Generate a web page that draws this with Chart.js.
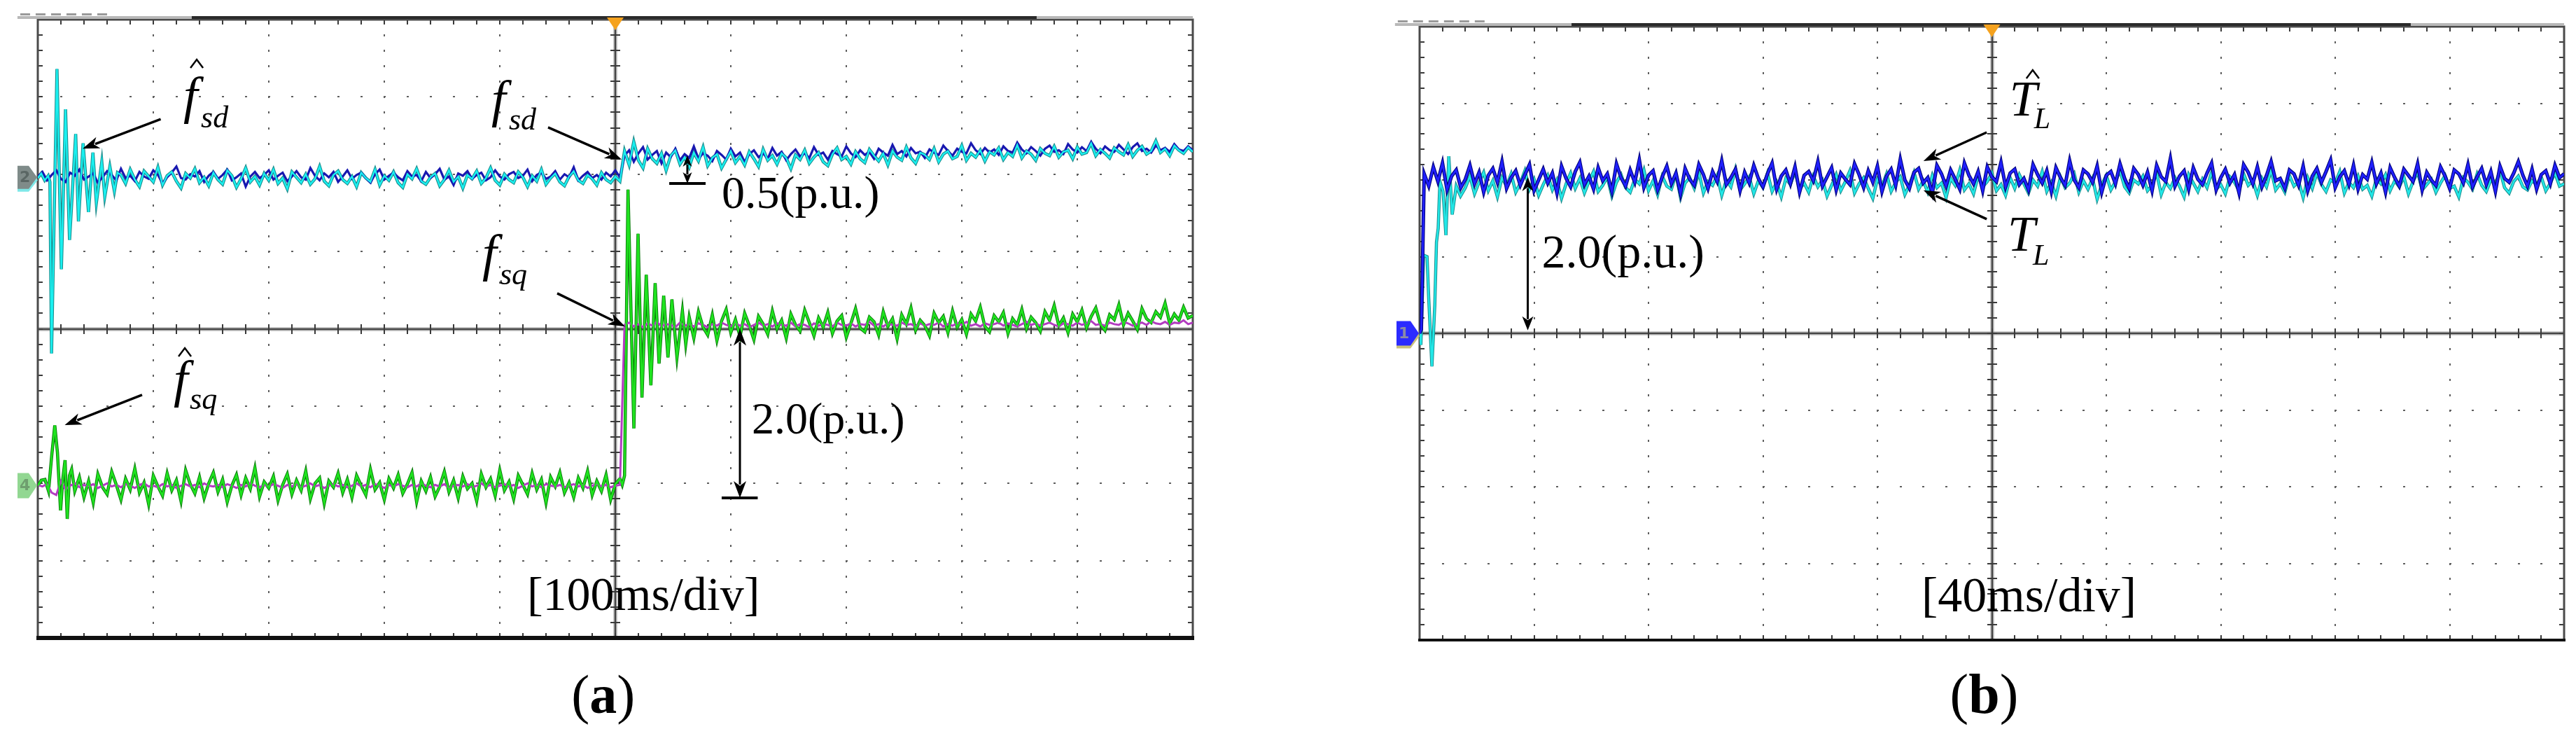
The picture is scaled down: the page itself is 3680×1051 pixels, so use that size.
<!DOCTYPE html>
<html><head><meta charset="utf-8">
<script src="https://cdn.jsdelivr.net/npm/chart.js@4.4.1/dist/chart.umd.min.js"></script>
<style>
html,body{margin:0;padding:0;background:#fff;width:3680px;height:1051px;overflow:hidden;}
canvas{position:absolute;top:0;}
#ca{left:0;} #cb{left:1840px;}
</style></head><body>
<canvas id="ca" width="1840" height="1051"></canvas>
<canvas id="cb" width="1840" height="1051"></canvas>
<script>
// ===== Panel (a): 100 ms/div, y in divisions =====
const xRangeA = [0, 1000];
const yRange = [-4, 4];
const stepA = 4; // ms sampling of steady parts

// f_sd (measured, navy)
const fsdBefore = [1.97,2.03,1.92,1.99,2.05,1.94,1.90,2.02,1.98,2.06,1.93,1.97,2.01,1.89,1.96,2.04,1.99,1.92,2.07,1.95,
1.98,1.91,2.03,1.97,1.94,2.05,1.99,1.88,1.96,2.02,2.10,1.95,1.93,2.00,1.97,2.04,1.90,1.98,2.03,1.94,
1.99,2.06,1.92,1.96,2.01,1.84,1.97,2.03,1.95,1.99,2.05,1.93,1.98,2.02,1.91,1.97,2.04,1.96,1.93,2.08,
1.98,1.92,2.01,1.96,2.03,1.90,1.97,2.05,1.94,1.99,2.02,1.95,1.89,2.00,2.06,1.93,1.98,2.02,1.96,1.92,
2.04,1.97,1.99,1.91,2.03,1.95,2.00,2.07,1.93,1.97,1.86,2.01,1.98,2.04,1.94,1.99,2.02,1.92,1.96,2.05,
1.97,1.93,2.00,2.03,1.95,1.98,2.06,1.91,1.99,2.02,1.94,1.97,2.04,1.93,2.00,1.96,2.09,1.92,1.98,2.03,
1.95,1.99,1.93,2.02,1.97,2.05,1.96];
const fsdAfter = [2.24,2.31,2.16,2.27,2.35,2.19,2.25,2.30,2.14,2.28,2.22,2.33,2.18,2.26,2.21,2.36,2.20,2.27,2.24,2.17,
2.30,2.25,2.19,2.33,2.23,2.28,2.16,2.26,2.31,2.22,2.27,2.20,2.34,2.24,2.29,2.18,2.26,2.32,2.23,2.27,
2.21,2.35,2.25,2.28,2.19,2.30,2.26,2.23,2.36,2.27,2.22,2.31,2.25,2.29,2.20,2.33,2.28,2.24,2.38,2.26,
2.30,2.23,2.34,2.27,2.29,2.21,2.32,2.28,2.25,2.37,2.30,2.24,2.33,2.29,2.27,2.40,2.31,2.26,2.34,2.28,
2.32,2.25,2.36,2.30,2.28,2.41,2.32,2.27,2.35,2.30,2.24,2.33,2.37,2.29,2.31,2.26,2.39,2.32,2.28,2.35,
2.30,2.42,2.33,2.27,2.36,2.31,2.29,2.38,2.32,2.26,2.35,2.40,2.30,2.33,2.28,2.37,2.31,2.34,2.29,2.39,
2.32,2.30,2.36,2.31];

// f^_sd (estimated, cyan)
const fsdHatStartT = [0,3,6,9,10.5,11.9,16.6,20.4,24.0,27.5,32.8,35.2,39.2,43.9,47.7,50.7,55.4,58.0,62.4,66.3,69];
const fsdHatStartV = [1.95,2.01,1.92,1.98,1.90,-0.32,3.36,0.77,2.84,1.15,2.52,1.39,2.40,1.51,2.28,1.63,2.16,1.71,2.10,1.78,2.02];
const fsdHatBefore = [1.99,1.88,2.06,1.93,1.84,2.04,1.97,1.90,2.09,1.86,1.98,2.03,1.91,1.82,2.01,1.95,2.07,1.89,1.96,1.85,
2.02,1.93,1.87,2.05,1.98,1.83,1.94,2.08,1.90,1.97,1.86,2.01,1.92,2.06,1.88,1.95,1.81,2.03,1.96,1.89,
2.00,1.87,1.94,2.10,1.91,1.85,1.99,2.04,1.93,1.88,1.97,1.84,2.02,1.95,1.90,2.06,1.86,1.98,1.92,2.03,
1.89,1.83,2.00,1.94,2.07,1.91,1.87,1.96,2.01,1.85,1.93,2.05,1.90,1.97,1.82,1.99,1.94,2.04,1.88,1.95,
2.08,1.92,1.86,2.00,1.93,1.89,2.03,1.96,1.84,1.98,1.91,2.06,1.87,1.95,2.01,1.90,1.85,1.97,2.04,1.92,
1.88,1.99,1.94,1.86,2.02,1.93,1.89,1.97,1.91];
const fsdHatAfter = [2.30,2.12,2.42,2.18,2.08,2.33,2.20,2.14,2.27,2.05,2.24,2.31,2.13,2.22,2.09,2.28,2.17,2.35,2.11,2.21,
2.26,2.08,2.19,2.30,2.15,2.23,2.12,2.29,2.20,2.10,2.32,2.18,2.24,2.13,2.27,2.21,2.07,2.25,2.19,2.31,
2.14,2.22,2.28,2.16,2.11,2.26,2.34,2.19,2.23,2.13,2.29,2.20,2.15,2.32,2.24,2.17,2.27,2.12,2.30,2.22,
2.18,2.35,2.21,2.14,2.28,2.25,2.19,2.33,2.16,2.26,2.30,2.20,2.23,2.37,2.18,2.27,2.22,2.31,2.17,2.29,
2.25,2.34,2.19,2.28,2.23,2.38,2.21,2.30,2.26,2.18,2.33,2.27,2.24,2.36,2.22,2.29,2.31,2.20,2.35,2.26,
2.28,2.40,2.24,2.32,2.27,2.21,2.34,2.29,2.25,2.38,2.23,2.31,2.36,2.26,2.30,2.43,2.28,2.33,2.24,2.37,
2.31,2.27,2.35,2.29];

// f_sq (measured, magenta)
const fsqBefore = [-2.02,-2.04,-2.01,-2.12,-2.15,-1.97,-2.08,-2.03,-2.00,-2.05,-2.02,-2.04,-2.01,-2.06,-2.03,-2.00,-2.04,-2.02,-2.05,-2.01,
-2.03,-2.06,-2.02,-2.00,-2.04,-2.03,-2.05,-2.01,-2.04,-2.02,-2.06,-2.03,-2.01,-2.04,-2.02,-2.05,-2.00,-2.03,-2.04,-2.02,
-2.05,-2.01,-2.03,-2.06,-2.02,-2.04,-2.00,-2.03,-2.05,-2.02,-2.04,-2.01,-2.03,-2.06,-2.02,-2.04,-2.01,-2.05,-2.03,-2.00,
-2.04,-2.02,-2.06,-2.03,-2.01,-2.04,-2.02,-2.05,-2.03,-2.00,-2.04,-2.02,-2.05,-2.01,-2.03,-2.06,-2.02,-2.04,-2.01,-2.03,
-2.05,-2.02,-2.04,-2.00,-2.03,-2.05,-2.02,-2.04,-2.01,-2.06,-2.03,-2.02,-2.04,-2.01,-2.05,-2.03,-2.00,-2.04,-2.02,-2.05,
-2.03,-2.01,-2.04,-2.02,-2.06,-2.03,-2.00,-2.04,-2.02,-2.05,-2.01,-2.03,-2.04,-2.02,-2.05,-2.03,-2.01,-2.04,-2.02,-2.06,
-2.03,-2.01,-2.04,-2.02,-2.05,-2.03,-2.02];
const fsqAfter = [0.05,0.08,0.03,0.06,0.02,0.07,0.04,0.09,0.03,0.06,0.05,0.02,0.08,0.04,0.06,0.03,0.07,0.05,0.02,0.06,
0.04,0.08,0.05,0.03,0.07,0.04,0.06,0.02,0.05,0.08,0.04,0.06,0.03,0.07,0.05,0.04,0.08,0.03,0.06,0.05,
0.02,0.07,0.04,0.06,0.05,0.03,0.08,0.05,0.04,0.07,0.03,0.06,0.05,0.09,0.04,0.06,0.03,0.07,0.05,0.04,
0.08,0.05,0.06,0.03,0.07,0.04,0.06,0.05,0.08,0.03,0.06,0.04,0.07,0.05,0.09,0.04,0.06,0.03,0.07,0.05,
0.06,0.08,0.04,0.07,0.05,0.03,0.06,0.09,0.05,0.07,0.04,0.06,0.08,0.05,0.03,0.07,0.06,0.04,0.08,0.05,
0.07,0.10,0.05,0.06,0.04,0.08,0.06,0.05,0.09,0.07,0.04,0.06,0.08,0.05,0.10,0.07,0.06,0.09,0.05,0.08,
0.07,0.11,0.06,0.08];

// f^_sq (estimated, green)
const fsqHatStartT = [0,3,6.2,9.3,12,14.7,17,19.7,21.6,23.6,25.5,27.4,29.3];
const fsqHatStartV = [-2.03,-1.96,-1.95,-2.10,-1.65,-1.25,-1.60,-2.35,-1.95,-1.70,-2.46,-1.90,-1.82];
const fsqHatBefore = [-2.10,-1.92,-2.18,-1.97,-2.25,-1.88,-2.05,-2.14,-1.85,-2.02,-2.21,-1.94,-2.08,-1.81,-2.12,-1.99,-2.27,-1.90,-2.04,-2.16,
-1.87,-2.09,-1.96,-2.23,-1.83,-2.01,-2.13,-1.92,-2.19,-2.00,-1.86,-2.11,-1.95,-2.24,-2.03,-1.89,-2.15,-1.93,-2.07,-1.80,
-2.17,-1.98,-2.06,-1.91,-2.22,-2.02,-1.88,-2.14,-1.96,-2.09,-1.84,-2.20,-2.00,-1.93,-2.26,-1.97,-2.05,-1.87,-2.12,-1.95,
-2.18,-1.90,-2.03,-2.15,-1.82,-2.08,-1.99,-2.21,-1.94,-2.06,-1.89,-2.13,-2.01,-1.86,-2.24,-1.97,-2.10,-1.92,-2.17,-2.04,
-1.85,-2.11,-1.96,-2.19,-1.91,-2.07,-2.00,-2.23,-1.88,-2.05,-1.94,-2.16,-1.83,-2.09,-1.98,-2.20,-1.90,-2.02,-2.14,-1.87,
-2.08,-1.95,-2.25,-1.92,-2.04,-1.86,-2.12,-1.99,-2.18,-1.93,-2.06,-1.84,-2.15,-1.97,-2.10,-1.89,-2.21,-2.01,-1.94];
const fsqHatStepT = [506,508,511,516.1,519.7,523.1,526.8,530.8,534.5,537.9,541.9,545.6,549,553.4,558.1,561];
const fsqHatStepV = [-2.02,-1.90,1.80,-1.29,1.23,-0.89,0.70,-0.73,0.59,-0.45,0.43,-0.37,0.38,-0.37,0.23,-0.20];
const fsqHatAfter = [0.15,-0.12,0.22,0.02,-0.08,0.18,-0.15,0.10,0.25,-0.05,0.12,-0.10,0.20,0.04,-0.14,0.16,0.06,-0.07,0.23,0.00,
0.11,-0.12,0.19,0.05,-0.03,0.24,0.08,-0.09,0.14,0.02,0.21,-0.06,0.10,0.17,-0.11,0.07,0.26,0.01,-0.04,0.15,
0.09,-0.08,0.22,0.03,0.13,-0.13,0.18,0.06,0.27,-0.02,0.11,0.04,-0.09,0.20,0.08,0.16,-0.05,0.23,0.02,0.12,
-0.07,0.19,0.10,0.28,0.03,-0.04,0.17,0.09,0.21,-0.06,0.13,0.05,0.25,0.00,0.15,0.08,-0.03,0.22,0.11,0.30,
0.04,0.14,-0.05,0.19,0.09,0.24,0.01,0.16,0.27,0.06,-0.02,0.18,0.12,0.31,0.05,0.20,0.10,-0.01,0.26,0.13,
0.08,0.22,0.15,0.33,0.07,0.19,0.11,0.28,0.14,0.17];

// ===== Panel (b): 40 ms/div =====
const xRangeB = [0, 400];
const stepB = 1.6;
const tlStartT = [0, 0.6];
const tlStartV = [0.00, 0.05];
const tl = [2.08,1.92,2.17,1.98,2.22,1.87,2.05,2.13,1.90,2.01,2.19,1.95,2.10,1.84,2.06,2.15,1.97,2.24,1.89,2.03,
2.12,1.93,2.07,2.20,1.86,2.00,2.14,1.96,2.09,1.83,2.18,2.02,1.91,2.11,2.23,1.94,2.05,1.88,2.16,1.99,
2.08,1.85,2.21,2.03,1.92,2.13,1.97,2.26,1.90,2.06,2.12,1.87,2.04,2.18,1.95,2.09,1.82,2.15,2.01,1.93,
2.20,2.07,1.89,2.11,1.98,2.25,1.94,2.03,2.14,1.86,2.10,1.96,2.19,2.02,1.91,2.08,2.22,1.88,2.05,2.13,
1.95,2.17,1.84,2.06,2.11,1.99,2.24,1.92,2.04,2.16,1.87,2.09,2.01,1.94,2.21,2.07,1.90,2.12,1.97,2.18,
1.85,2.05,2.14,1.93,2.27,2.00,1.89,2.10,2.15,1.96,2.03,1.83,2.19,2.08,1.92,2.13,2.01,1.88,2.22,2.06,
1.95,2.11,1.86,2.17,2.04,1.98,2.23,1.91,2.09,2.14,1.94,2.02,1.87,2.20,2.07,1.96,2.12,1.85,2.16,2.03,
1.93,2.25,2.00,1.90,2.13,2.08,1.97,2.18,1.84,2.06,2.11,1.95,2.21,2.02,1.89,2.15,2.07,1.93,2.10,1.86,
2.19,2.04,1.98,2.28,1.92,2.05,2.12,1.88,2.16,2.01,1.94,2.09,2.22,1.87,2.03,2.14,1.96,2.07,1.83,2.20,
2.10,1.95,2.17,1.91,2.06,2.24,1.99,2.02,1.89,2.13,2.08,1.93,2.18,1.86,2.05,2.15,1.97,2.11,2.26,1.90,
2.04,2.12,1.94,2.19,1.88,2.07,2.01,2.23,1.95,2.09,1.84,2.16,2.03,1.92,2.14,2.06,1.98,2.21,1.87,2.10,
2.00,1.93,2.17,2.05,1.89,2.13,2.08,1.96,2.20,1.91,2.04,2.15,1.94,2.11,1.85,2.18,2.02,1.97,2.09,2.24,
2.06,1.92,2.14,1.88,2.07,2.12,1.95,2.19,2.03,2.08];
const tlHatStartT = [0,0.45,1.4,2.6,3.2,4.3,5.3,5.9,6.5,7.1,8.2,9.2,10.2,11.4,12.8,14.3];
const tlHatStartV = [0.00,-0.15,1.02,1.00,0.45,-0.43,0.36,1.19,1.37,1.98,1.85,1.28,2.31,1.55,1.92,1.79];
const tlHat = [1.90,2.05,1.82,1.97,2.10,1.86,1.99,1.78,2.03,1.92,2.08,1.84,1.96,2.12,1.88,2.01,1.80,1.94,2.06,1.87,
2.00,1.76,1.95,2.09,1.89,2.02,1.83,1.98,2.11,1.85,1.93,2.04,1.79,1.97,2.07,1.90,1.84,2.01,1.95,2.13,
1.86,1.99,1.81,2.05,1.92,1.88,2.08,1.77,1.96,2.03,1.89,2.10,1.83,1.98,1.93,2.06,1.80,2.00,1.91,2.14,
1.87,1.95,2.04,1.82,1.99,1.90,2.09,1.85,1.97,1.78,2.02,1.94,2.11,1.88,1.96,1.84,2.05,1.91,2.00,1.79,
1.93,2.07,1.86,1.98,2.12,1.83,1.95,2.03,1.89,1.76,2.01,1.92,2.08,1.85,1.97,2.04,1.81,1.94,2.10,1.88,
1.99,1.84,2.06,1.90,1.96,1.77,2.02,1.93,2.13,1.87,1.95,1.82,2.05,1.91,1.98,2.09,1.86,1.94,1.80,2.03,
1.89,2.07,1.95,1.83,2.00,1.92,2.11,1.85,1.97,1.79,2.04,1.90,1.96,2.08,1.84,1.99,1.88,2.02,1.75,1.94,
2.06,1.87,1.98,2.12,1.91,1.83,2.00,1.95,2.05,1.86,1.93,2.09,1.81,1.97,1.89,2.03,1.92,1.78,2.07,1.96,
1.85,2.01,1.90,2.10,1.88,1.94,1.82,2.04,1.97,1.86,2.08,1.93,1.99,1.80,2.02,1.91,2.13,1.87,1.95,1.84,
2.06,1.92,1.98,1.77,2.03,1.89,2.09,1.94,1.85,2.00,1.96,2.11,1.83,1.97,1.90,2.05,1.88,1.93,1.79,2.02,
1.95,2.07,1.86,1.99,1.91,2.04,1.82,1.98,2.10,1.87,1.94,2.01,1.84,1.96,2.06,1.89,1.92,1.78,2.03,1.97,
1.88,2.08,1.93,1.85,2.00,1.95,2.12,1.90,1.83,1.98,2.05,1.91,1.87,1.99,1.94,2.04,1.86,1.96,2.09,1.92,1.95];

// ===== helpers =====
const series = (t0, dt, vals) => vals.map((v, i) => ({x: t0 + i * dt, y: v}));
const pairs = (ts, vs) => ts.map((t, i) => ({x: t, y: vs[i]}));
const line = (data, color, width, order) => ({data, borderColor: color, borderWidth: width, pointRadius: 0,
  tension: 0, fill: false, order, borderJoinStyle: 'miter', borderCapStyle: 'butt'});
const SERIF = '"Liberation Serif","Times New Roman",serif';

const scopeGrid = {
  id: 'scopeGrid',
  beforeDatasetsDraw(chart) {
    const {ctx, chartArea: a, scales: {x, y}} = chart;
    const spec = chart.config.options.scopeSpec;
    const nx = 10, ny = 8, sub = 5;
    const dx = (x.max - x.min) / nx, dy = (y.max - y.min) / ny;
    const X = v => Math.round(x.getPixelForValue(v)), Y = v => Math.round(y.getPixelForValue(v));
    ctx.save();
    ctx.fillStyle = '#5e5e5e';
    for (let i = 1; i < nx; i++) {
      if (i === nx / 2) continue;
      const px = X(x.min + i * dx);
      for (let k = 1; k < ny * sub; k++) ctx.fillRect(px - 1, Y(y.min + k * dy / sub) - 1, 2, 3);
    }
    for (let j = 1; j < ny; j++) {
      if (j === ny / 2) continue;
      const py = Y(y.min + j * dy);
      for (let k = 1; k < nx * sub; k++) ctx.fillRect(X(x.min + k * dx / sub) - 1, py - 1, 3, 2);
    }
    const cx = X((x.min + x.max) / 2), cy = Y((y.min + y.max) / 2);
    const seg = (x1, y1, x2, y2) => { ctx.beginPath(); ctx.moveTo(x1, y1); ctx.lineTo(x2, y2); ctx.stroke(); };
    ctx.strokeStyle = 'rgba(160,160,160,0.55)'; ctx.lineWidth = 6;
    seg(cx, a.top, cx, a.bottom); seg(a.left, cy, a.right, cy);
    ctx.strokeStyle = '#454545'; ctx.lineWidth = 2.5;
    seg(cx, a.top, cx, a.bottom); seg(a.left, cy, a.right, cy);
    ctx.lineWidth = 2; ctx.strokeStyle = '#3a3a3a';
    for (let k = 1; k < nx * sub; k++) {
      const px = X(x.min + k * dx / sub);
      seg(px, cy - 7, px, cy + 7); seg(px, a.top, px, a.top + 7); seg(px, a.bottom - 7, px, a.bottom);
    }
    for (let k = 1; k < ny * sub; k++) {
      const py = Y(y.min + k * dy / sub);
      seg(cx - 7, py, cx + 7, py); seg(a.left, py, a.left + 7, py); seg(a.right - 7, py, a.right, py);
    }
    ctx.strokeStyle = '#4a4a4a'; ctx.lineWidth = 3;
    ctx.strokeRect(a.left, a.top, a.right - a.left, a.bottom - a.top);
    ctx.strokeStyle = '#111'; ctx.lineWidth = spec.bottomWidth;
    seg(a.left - 2, a.bottom, a.right + 2, a.bottom);
    ctx.restore();
  }
};

function arrowHead(ctx, x1, y1, x2, y2, len, w) {
  const ang = Math.atan2(y2 - y1, x2 - x1), c = Math.cos(ang), s = Math.sin(ang);
  ctx.beginPath();
  ctx.moveTo(x2, y2);
  ctx.lineTo(x2 - len * c + w / 2 * s, y2 - len * s - w / 2 * c);
  ctx.lineTo(x2 - len * 0.72 * c, y2 - len * 0.72 * s);
  ctx.lineTo(x2 - len * c - w / 2 * s, y2 - len * s + w / 2 * c);
  ctx.closePath(); ctx.fill();
}

const scopeAnno = {
  id: 'scopeAnno',
  afterDatasetsDraw(chart) {
    const {ctx, chartArea: a, scales: {x, y}} = chart;
    const spec = chart.config.options.scopeSpec;
    const X = v => x.getPixelForValue(v), Y = v => y.getPixelForValue(v);
    ctx.save();
    // top status bar
    ctx.lineWidth = 4;
    ctx.strokeStyle = '#b8b8b8';
    ctx.beginPath(); ctx.moveTo(X(spec.bar[0]), a.top - 3); ctx.lineTo(a.right, a.top - 3); ctx.stroke();
    ctx.strokeStyle = '#2a2a2a';
    ctx.beginPath(); ctx.moveTo(X(spec.bar[1]), a.top - 3); ctx.lineTo(X(spec.bar[2]), a.top - 3); ctx.stroke();
    ctx.fillStyle = '#9a9a9a';
    for (let k = 0; k < 6; k++) ctx.fillRect(X(spec.bar[0]) + 4 + k * 22, a.top - 9, 14, 3);
    // trigger marker
    const tx = X(spec.trigger);
    ctx.fillStyle = '#f5a21e';
    ctx.beginPath(); ctx.moveTo(tx - 12, a.top - 3); ctx.lineTo(tx + 12, a.top - 3); ctx.lineTo(tx, a.top + 15); ctx.closePath(); ctx.fill();
    // channel markers
    for (const m of spec.markers) {
      const my = Y(m.v), r = a.left - 1, l = a.left - m.w, h = m.h / 2;
      if (m.shadow) {
        ctx.fillStyle = m.shadow;
        ctx.beginPath(); ctx.moveTo(l, my - h + 4); ctx.lineTo(r - 12, my - h + 4); ctx.lineTo(r + 1, my + 4);
        ctx.lineTo(r - 12, my + h + 4); ctx.lineTo(l, my + h + 4); ctx.closePath(); ctx.fill();
      }
      ctx.fillStyle = m.color;
      ctx.beginPath(); ctx.moveTo(l, my - h); ctx.lineTo(r - 12, my - h); ctx.lineTo(r, my);
      ctx.lineTo(r - 12, my + h); ctx.lineTo(l, my + h); ctx.closePath(); ctx.fill();
      ctx.fillStyle = m.textColor; ctx.font = 'bold 22px "DejaVu Sans"'; ctx.textBaseline = 'middle';
      ctx.fillText(m.label, l + 3, my + 1);
      ctx.textBaseline = 'alphabetic';
    }
    ctx.fillStyle = '#000'; ctx.strokeStyle = '#000';
    // arrows
    for (const ar of spec.arrows) {
      const x1 = X(ar.from[0]), y1 = Y(ar.from[1]), x2 = X(ar.to[0]), y2 = Y(ar.to[1]);
      const ang = Math.atan2(y2 - y1, x2 - x1);
      ctx.lineWidth = ar.w;
      ctx.beginPath(); ctx.moveTo(x1, y1); ctx.lineTo(x2 - ar.len * 0.8 * Math.cos(ang), y2 - ar.len * 0.8 * Math.sin(ang)); ctx.stroke();
      arrowHead(ctx, x1, y1, x2, y2, ar.len, ar.hw);
    }
    // double-headed dimension arrows
    for (const d of spec.dims) {
      const px = X(d.t), y1 = Y(d.v1), y2 = Y(d.v2);
      ctx.lineWidth = d.w;
      ctx.beginPath(); ctx.moveTo(px, y1 + d.len * 0.8); ctx.lineTo(px, y2 - d.len * 0.8); ctx.stroke();
      arrowHead(ctx, px, y2, px, y1, d.len, d.hw);
      arrowHead(ctx, px, y1, px, y2, d.len, d.hw);
      if (d.bar) {
        ctx.lineWidth = 4;
        ctx.beginPath(); ctx.moveTo(X(d.bar[0]), y2); ctx.lineTo(X(d.bar[1]), y2); ctx.stroke();
      }
    }
    // math labels
    for (const L of spec.labels) {
      const px = X(L.t), py = Y(L.v);
      ctx.font = `italic ${L.size}px ${SERIF}`; ctx.fillText(L.main, px, py);
      ctx.font = `italic ${L.subSize}px ${SERIF}`; ctx.fillText(L.sub, px + L.subDx, py + L.subDy);
      if (L.hat) {
        const hx = px + L.hat[0], hy = py + L.hat[1];
        ctx.lineWidth = 2.5;
        ctx.beginPath(); ctx.moveTo(hx - 9, hy + 12); ctx.lineTo(hx, hy); ctx.lineTo(hx + 9, hy + 12); ctx.stroke();
      }
    }
    // plain texts
    for (const T of spec.texts) {
      ctx.font = `${T.size}px ${SERIF}`; ctx.fillText(T.s, X(T.t), Y(T.v));
    }
    // caption "(a)" / "(b)"
    const c = spec.caption;
    const parts = [['(', 'normal'], [c.s, 'bold'], [')', 'normal']];
    let tot = 0;
    for (const p of parts) { ctx.font = `${p[1]} ${c.size}px ${SERIF}`; tot += ctx.measureText(p[0]).width; }
    let cx = X(c.t) - tot / 2;
    for (const p of parts) { ctx.font = `${p[1]} ${c.size}px ${SERIF}`; ctx.fillText(p[0], cx, Y(c.v)); cx += ctx.measureText(p[0]).width; }
    ctx.restore();
  }
};

function makeChart(id, datasets, xr, padding, spec) {
  return new Chart(document.getElementById(id), {
    type: 'line',
    data: {datasets},
    options: {
      responsive: false, animation: false, devicePixelRatio: 1,
      layout: {padding},
      scopeSpec: spec,
      plugins: {legend: {display: false}, tooltip: {enabled: false}},
      scales: {
        x: {type: 'linear', min: xr[0], max: xr[1], display: false},
        y: {type: 'linear', min: yRange[0], max: yRange[1], display: false}
      }
    },
    plugins: [scopeGrid, scopeAnno]
  });
}

// ----- panel (a) -----
const fsdData = series(0, stepA, fsdBefore).concat(series(508, stepA, fsdAfter));
const fsdHatData = pairs(fsdHatStartT, fsdHatStartV).concat(series(72, stepA, fsdHatBefore), series(508, stepA, fsdHatAfter));
const fsqData = series(0, stepA, fsqBefore).concat(series(508, stepA, fsqAfter));
const fsqHatData = pairs(fsqHatStartT, fsqHatStartV).concat(series(32, stepA, fsqHatBefore), pairs(fsqHatStepT, fsqHatStepV), series(564, stepA, fsqHatAfter));

makeChart('ca', [
  line(fsqHatData, '#0b7a0b', 4.5, 10),
  line(fsqData, '#b23cc0', 3, 9),
  line(fsqHatData, '#1fe41f', 2.6, 8),
  line(fsdHatData, '#1b8b8b', 4.5, 7),
  line(fsdData, '#1818b0', 3.2, 6),
  line(fsdHatData, '#1af0f0', 2.4, 5)
], xRangeA, {left: 54, right: 136, top: 28, bottom: 140}, {
  bottomWidth: 6,
  bar: [-17.6, 133.3, 864.8],
  trigger: 500,
  markers: [
    {v: 1.96, w: 29, h: 33, color: '#7f8b89', textColor: '#5a6664', label: '2', shadow: '#7fe8e8'},
    {v: -2.03, w: 29, h: 36, color: '#92d792', textColor: '#6f9f6f', label: '4'}
  ],
  arrows: [
    {from: [106.4, 2.713], to: [38.8, 2.33], w: 3.5, len: 24, hw: 17},
    {from: [441.8, 2.605], to: [505.5, 2.19], w: 3.5, len: 24, hw: 17},
    {from: [449.7, 0.458], to: [508.5, 0.03], w: 3.5, len: 24, hw: 17},
    {from: [90.3, -0.856], to: [23.3, -1.246], w: 3.5, len: 24, hw: 17}
  ],
  dims: [
    {t: 562.4, v1: 2.242, v2: 1.88, w: 3, len: 16, hw: 13, bar: [546.7, 578.2]},
    {t: 607.9, v1: 0.0, v2: -2.188, w: 3, len: 24, hw: 18, bar: [592.1, 623.3]}
  ],
  labels: [
    {t: 126.1, v: 2.795, main: 'f', sub: 'sd', size: 74, subSize: 44, subDx: 25, subDy: 21, hat: [19, -76]},
    {t: 392.7, v: 2.75, main: 'f', sub: 'sd', size: 74, subSize: 44, subDx: 25, subDy: 19},
    {t: 384.8, v: 0.757, main: 'f', sub: 'sq', size: 74, subSize: 44, subDx: 25, subDy: 20},
    {t: 117.6, v: -0.874, main: 'f', sub: 'sq', size: 74, subSize: 44, subDx: 23, subDy: 18, hat: [16, -69]}
  ],
  texts: [
    {s: '0.5(p.u.)', t: 592.1, v: 1.563, size: 66},
    {s: '2.0(p.u.)', t: 618.2, v: -1.354, size: 64},
    {s: '[100ms/div]', t: 423.6, v: -3.637, size: 68}
  ],
  caption: {s: 'a', t: 489.5, v: -4.969, size: 78}
});

// ----- panel (b) -----
const tlData = pairs(tlStartT, tlStartV).concat(series(1.6, stepB, tl));
const tlHatData = pairs(tlHatStartT, tlHatStartV).concat(series(16, stepB, tlHat));

makeChart('cb', [
  line(tlHatData, '#1b8a8a', 4.5, 10),
  line(tlHatData, '#22e8e8', 2.6, 9),
  line(tlData, '#00007a', 5, 8),
  line(tlData, '#2020ff', 2.8, 7)
], xRangeB, {left: 188, right: 17, top: 38, bottom: 137}, {
  bottomWidth: 4,
  bar: [-8.6, 53.1, 346.4],
  trigger: 200,
  markers: [
    {v: 0, w: 33, h: 35, color: '#2b2bff', textColor: '#8a8aa8', label: '1', shadow: '#c9c07a'}
  ],
  arrows: [
    {from: [198.2, 2.621], to: [176.1, 2.247], w: 3.5, len: 24, hw: 17},
    {from: [198.2, 1.489], to: [176.1, 1.866], w: 3.5, len: 24, hw: 17}
  ],
  dims: [
    {t: 37.8, v1: 2.037, v2: 0.039, w: 3, len: 20, hw: 16}
  ],
  labels: [
    {t: 206.2, v: 2.84, main: 'T', sub: 'L', size: 71, subSize: 42, subDx: 35, subDy: 18, hat: [33, -65]},
    {t: 205.5, v: 1.078, main: 'T', sub: 'L', size: 71, subSize: 42, subDx: 36, subDy: 20}
  ],
  texts: [
    {s: '2.0(p.u.)', t: 42.7, v: 0.858, size: 68},
    {s: '[40ms/div]', t: 175.4, v: -3.626, size: 70}
  ],
  caption: {s: 'b', t: 197.3, v: -4.95, size: 80}
});
</script></body></html>
